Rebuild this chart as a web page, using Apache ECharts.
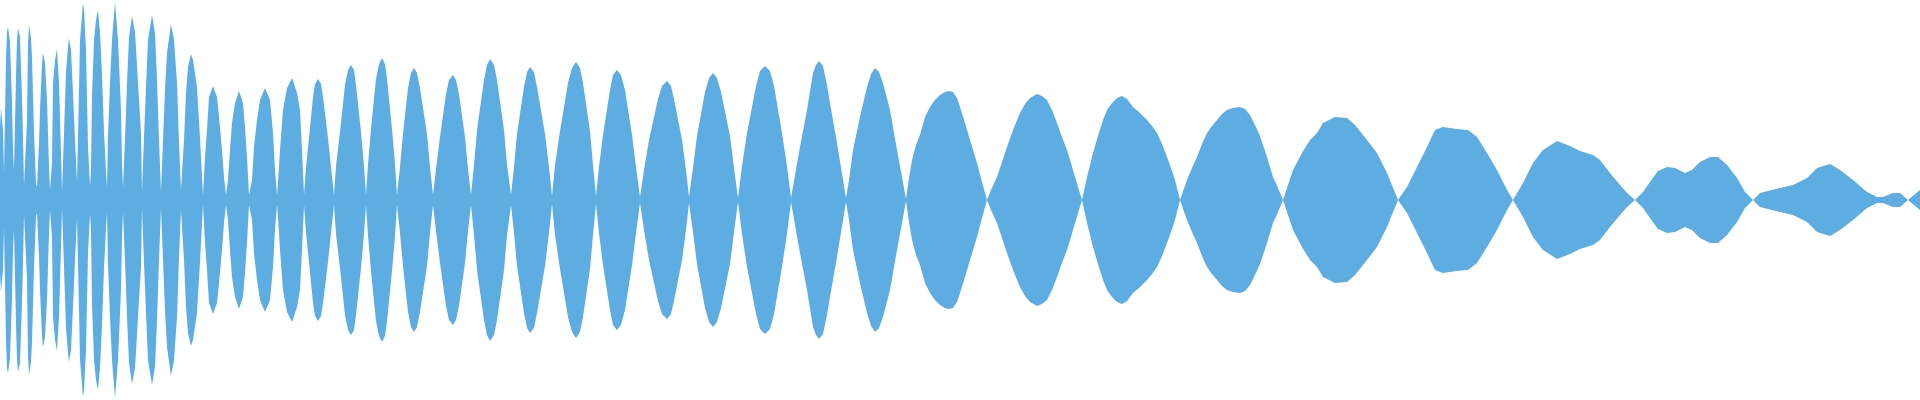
<!DOCTYPE html>
<html>
<head>
<meta charset="utf-8">
<script src="https://cdn.jsdelivr.net/npm/echarts@6/dist/echarts.min.js"></script>
<style>
html,body{margin:0;padding:0;background:#fff;}
#chart{width:1920px;height:400px;}
</style>
</head>
<body>
<div id="chart"></div>
<script>
// Sample positions (time axis) of the waveform envelope
const xs = [
  0,1,2,3,4,
  6,7,8,10,12,13,14,
  16,17,18,20,22,23,24,
  25,27,28,29,31,32,34,36,37,
  39,40,42,43,45,47,49,50,
  52,53,55,57,59,61,62,63,
  64,66,68,69,71,73,75,77,
  79,80,83,84,86,88,90,
  91,92,94,96,98,100,102,104,106,107,
  108,110,112,115,118,121,122,123,
  125,127,129,132,135,138,141,142,
  144,146,148,152,155,157,159,161,
  163,165,167,171,174,177,179,181,
  184,186,188,191,193,197,200,202,203,
  205,207,209,213,217,219,222,224,226,
  228,230,232,235,239,243,245,247,249,
  252,254,257,260,265,270,273,275,277,
  278,280,283,287,292,297,300,302,304,
  306,309,313,315,318,321,323,328,331,334,
  336,340,345,348,351,354,356,361,364,366,
  368,371,376,379,382,385,387,392,395,397,
  400,403,408,411,414,417,420,427,430,433,
  436,440,446,449,453,456,459,465,468,471,
  474,477,484,487,490,494,497,504,507,511,
  514,517,524,527,530,534,537,545,549,552,
  555,560,568,572,576,580,583,590,593,596,
  599,603,610,613,617,621,625,632,636,640,
  644,649,658,662,667,671,674,682,686,689,
  693,697,705,709,713,717,721,730,734,738,
  742,747,756,760,765,770,774,782,787,791,
  795,800,807,813,816,819,823,827,830,837,843,846,
  849,853,860,867,871,875,879,883,890,897,902,906,
  909,912,916,920,925,930,935,940,945,949,953,957,960,965,970,977,982,987,
  991,997,1002,1007,1013,1020,1025,1030,1037,1042,1047,1052,1057,1062,1067,1071,1075,1082,
  1087,1093,1098,1103,1107,1112,1117,1122,1127,1133,1140,1147,1152,1157,1162,1167,1171,1175,1180,
  1187,1192,1197,1202,1207,1212,1217,1222,1227,1233,1240,1245,1250,1255,1260,1267,1273,1278,1283,
  1293,1302,1310,1317,1323,1335,1347,1355,1367,1377,1387,1398,
  1407,1417,1427,1435,1443,1457,1468,1477,1487,1497,1507,1513,
  1523,1533,1543,1557,1570,1580,1593,1600,1610,1620,1627,1635,
  1643,1650,1658,1667,1675,1685,1692,1700,1710,1718,1727,1737,1745,1753,
  1760,1768,1780,1793,1807,1817,1830,1840,1853,1867,1877,1883,1893,1900,1908,
  1920
];
// Envelope amplitude at each sample (signal is symmetric about zero)
const amps = [
  73,92,93,70,27,
  141,168,173,158,97,50,30,
  123,160,172,163,102,63,15,
  15,78,157,175,162,142,67,17,13,
  57,90,137,147,137,100,33,10,
  37,117,140,151,117,47,8,8,
  67,128,153,162,150,107,60,18,
  110,160,197,190,150,53,14,
  29,105,160,180,190,168,125,68,28,13,
  63,117,160,198,160,90,37,13,
  60,117,163,184,168,117,67,8,
  63,113,160,185,167,120,60,8,
  60,110,147,176,160,117,57,10,
  60,107,133,146,140,113,62,23,5,
  43,70,103,114,103,83,50,23,5,
  20,50,77,97,109,97,73,43,5,
  20,53,80,100,112,100,67,30,5,
  17,50,90,112,122,107,90,50,5,
  33,62,103,116,121,116,103,62,33,5,
  34,68,115,130,135,130,115,68,34,5,
  36,71,121,136,142,136,121,71,36,5,
  33,66,112,127,132,127,112,66,33,5,
  31,63,106,120,125,120,106,63,31,5,
  35,70,120,135,141,135,120,70,35,5,
  33,66,113,128,133,128,113,66,33,4,
  35,69,117,132,138,132,117,69,35,4,
  33,65,110,125,130,125,110,65,33,3,
  30,60,101,114,119,114,101,60,30,3,
  32,64,108,122,127,122,108,64,32,2,
  34,67,114,129,134,129,114,67,34,2,
  25,53,90,127,135,139,134,115,97,57,20,2,
  20,50,83,113,126,132,128,117,90,50,23,1,
  22,40,55,65,83,93,100,105,108,109,108,102,93,77,60,37,18,0,
  10,23,38,53,70,87,96,102,106,104,100,90,77,63,50,37,23,0,
  23,47,64,80,90,97,102,104,101,93,87,80,74,67,56,43,32,20,0,
  20,32,43,56,67,74,80,86,90,92,93,91,85,75,64,43,23,12,0,
  30,47,60,67,77,83,82,75,60,47,27,0,
  13,33,53,70,73,71,70,63,47,30,10,0,
  17,37,50,59,54,49,45,40,27,15,7,0,
  8,18,29,33,32,27,30,38,43,43,35,22,8,0,
  7,9,12,15,22,32,36,30,20,8,3,3,7,7,0,
  10
];

const upper = xs.map((x, i) => [x, amps[i]]);
const lower = xs.map((x, i) => [x, -amps[i]]);
const color = '#5dade2';

const chart = echarts.init(document.getElementById('chart'), null, {renderer: 'canvas'});
chart.setOption({
  animation: false,
  backgroundColor: '#ffffff',
  grid: {left: 0, right: 0, top: 0, bottom: 0},
  xAxis: {type: 'value', min: 0, max: 1920, show: false},
  yAxis: {type: 'value', min: -200, max: 200, show: false},
  series: [
    {type: 'line', data: upper, symbol: 'none', lineStyle: {width: 0}, areaStyle: {color: color, opacity: 1}, itemStyle: {color: color}},
    {type: 'line', data: lower, symbol: 'none', lineStyle: {width: 0}, areaStyle: {color: color, opacity: 1}, itemStyle: {color: color}}
  ]
});
</script>
</body>
</html>
